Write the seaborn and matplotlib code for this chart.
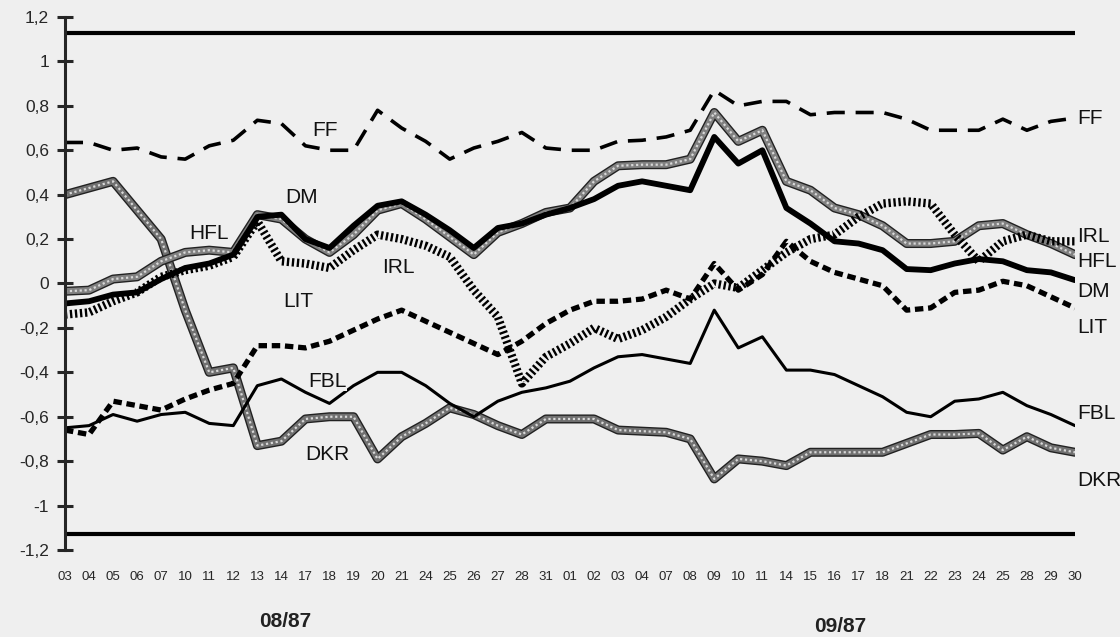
import matplotlib
matplotlib.use("Agg")
import matplotlib.pyplot as plt
import pandas as pd
import seaborn as sns

# trading days, Aug and Sep 1987
aug_days = ["03", "04", "05", "06", "07", "10", "11", "12", "13", "14", "17", "18", "19", "20", "21",
            "24", "25", "26", "27", "28", "31"]
sep_days = ["01", "02", "03", "04", "07", "08", "09", "10", "11", "14", "15", "16", "17", "18", "21",
            "22", "23", "24", "25", "28", "29", "30"]
day_labels = aug_days + sep_days
month_labels = ["08/87", "09/87"]

ff = [0.635, 0.635, 0.60, 0.61, 0.57, 0.56, 0.62, 0.645, 0.735, 0.72, 0.62, 0.60, 0.60, 0.78, 0.70,
      0.64, 0.56, 0.61, 0.64, 0.68, 0.61, 0.60, 0.60, 0.64, 0.645, 0.66, 0.69, 0.87, 0.80, 0.82,
      0.82, 0.76, 0.77, 0.77, 0.77, 0.74, 0.69, 0.69, 0.69, 0.74, 0.69, 0.73, 0.745]
dm = [-0.09, -0.08, -0.05, -0.04, 0.02, 0.07, 0.09, 0.13, 0.30, 0.31, 0.20, 0.16, 0.26, 0.35, 0.37,
      0.31, 0.24, 0.16, 0.25, 0.27, 0.31, 0.34, 0.38, 0.44, 0.46, 0.44, 0.42, 0.66, 0.54, 0.60,
      0.34, 0.27, 0.19, 0.18, 0.15, 0.065, 0.06, 0.09, 0.11, 0.10, 0.06, 0.05, 0.015]
hfl = [-0.035, -0.03, 0.02, 0.03, 0.10, 0.14, 0.15, 0.14, 0.31, 0.29, 0.20, 0.14, 0.22, 0.33, 0.36,
       0.29, 0.21, 0.13, 0.23, 0.27, 0.32, 0.34, 0.46, 0.53, 0.535, 0.535, 0.56, 0.77, 0.64, 0.69,
       0.46, 0.42, 0.34, 0.31, 0.26, 0.18, 0.18, 0.19, 0.26, 0.27, 0.22, 0.18, 0.13]
irl = [-0.14, -0.13, -0.08, -0.04, 0.03, 0.06, 0.08, 0.12, 0.28, 0.10, 0.09, 0.07, 0.15, 0.22, 0.20,
       0.17, 0.12, -0.03, -0.15, -0.45, -0.33, -0.27, -0.20, -0.25, -0.21, -0.15, -0.07, 0.0, -0.02,
       0.06, 0.14, 0.20, 0.22, 0.30, 0.36, 0.37, 0.36, 0.22, 0.10, 0.19, 0.22, 0.19, 0.19]
lit = [-0.66, -0.68, -0.53, -0.55, -0.57, -0.52, -0.48, -0.45, -0.28, -0.28, -0.29, -0.26, -0.21,
       -0.16, -0.12, -0.17, -0.22, -0.27, -0.32, -0.26, -0.18, -0.12, -0.08, -0.08, -0.07, -0.03,
       -0.07, 0.09, -0.03, 0.04, 0.19, 0.10, 0.05, 0.02, -0.01, -0.12, -0.11, -0.04, -0.03, 0.01,
       -0.01, -0.06, -0.11]
fbl = [-0.65, -0.64, -0.59, -0.62, -0.59, -0.58, -0.63, -0.64, -0.46, -0.43, -0.49, -0.54, -0.46,
       -0.40, -0.40, -0.46, -0.54, -0.60, -0.53, -0.49, -0.47, -0.44, -0.38, -0.33, -0.32, -0.34,
       -0.36, -0.12, -0.29, -0.24, -0.39, -0.39, -0.41, -0.46, -0.51, -0.58, -0.60, -0.53, -0.52,
       -0.49, -0.55, -0.59, -0.64]
dkr = [0.40, 0.43, 0.46, 0.33, 0.20, -0.12, -0.40, -0.38, -0.73, -0.71, -0.61, -0.60, -0.60, -0.79,
       -0.69, -0.63, -0.56, -0.59, -0.64, -0.68, -0.61, -0.61, -0.61, -0.66, -0.665, -0.67, -0.70,
       -0.88, -0.79, -0.80, -0.82, -0.76, -0.76, -0.76, -0.76, -0.72, -0.68, -0.68, -0.675, -0.75,
       -0.69, -0.74, -0.76]
band = 1.13

bg = "#efefef"
sns.set_style("ticks")
plt.rcParams["font.family"] = ["Liberation Sans", "DejaVu Sans"]

df = pd.DataFrame({"day": range(len(day_labels)), "FF": ff, "DM": dm, "HFL": hfl, "IRL": irl,
                   "LIT": lit, "FBL": fbl, "DKR": dkr})

fig = plt.figure(figsize=(11.2, 6.37), dpi=100, facecolor=bg)
ax = fig.add_axes([0.058, 0.1366, 0.9018, 0.8367], facecolor=bg)

ax.axhline(band, color="black", lw=3)
ax.axhline(-band, color="black", lw=3)

# checkered grey lines
for col, c in [("DKR", "#707070"), ("HFL", "#808080")]:
    sns.lineplot(data=df, x="day", y=col, ax=ax, color="#222222", lw=6.5)
    sns.lineplot(data=df, x="day", y=col, ax=ax, color=c, lw=4.5)
    line = sns.lineplot(data=df, x="day", y=col, ax=ax, color="#d8d8d8", lw=1.6).lines[-1]
    line.set_dashes((1, 1.2))
sns.lineplot(data=df, x="day", y="FBL", ax=ax, color="black", lw=2.2)
sns.lineplot(data=df, x="day", y="DM", ax=ax, color="black", lw=4.2)
# hatched line: very short dashes on a wide stroke
line = sns.lineplot(data=df, x="day", y="IRL", ax=ax, color="black", lw=6.0).lines[-1]
line.set_dashes((0.28, 0.32))
line = sns.lineplot(data=df, x="day", y="LIT", ax=ax, color="black", lw=3.8).lines[-1]
line.set_dashes((1.6, 0.9))
line = sns.lineplot(data=df, x="day", y="FF", ax=ax, color="black", lw=2.6).lines[-1]
line.set_dashes((5, 3))

lab_kw = dict(fontsize=15, color="#111111", va="center",
              bbox=dict(facecolor=bg, edgecolor="none", pad=0.5))
inner = [("FF", 10.8, 0.69), ("DM", 9.85, 0.385), ("HFL", 6.0, 0.225), ("IRL", 13.85, 0.07),
         ("LIT", 9.7, -0.08), ("FBL", 10.9, -0.44), ("DKR", 10.9, -0.77)]
for name, x, y in inner:
    ax.text(x, y, name, ha="center", **lab_kw)
right = [("FF", 0.745), ("IRL", 0.21), ("HFL", 0.10), ("DM", -0.035), ("LIT", -0.20),
         ("FBL", -0.585), ("DKR", -0.885)]
for name, y in right:
    ax.text(42.1, y, name, ha="left", **lab_kw)

ax.set_xlim(0, 42)
ax.set_ylim(-1.2, 1.2)
yt = [round(-1.2 + 0.2 * i, 1) for i in range(13)]
ax.set_yticks(yt)
ax.set_yticklabels([("%g" % v).replace(".", ",") for v in yt], fontsize=12.5)
ax.tick_params(axis="y", direction="inout", length=11, width=2.2, pad=6)
ax.set_xticks(range(len(day_labels)))
ax.set_xticklabels(day_labels, fontsize=9.5)
ax.tick_params(axis="x", length=0, pad=15)
ax.set_xlabel("")
ax.set_ylabel("")
for s in ["top", "right", "bottom"]:
    ax.spines[s].set_visible(False)
ax.spines["left"].set_linewidth(2.2)

fig.text(285 / 1120, 0.025, month_labels[0], fontsize=15, fontweight="bold", ha="center",
         va="center", color="#222222")
fig.text(840 / 1120, 0.017, month_labels[1], fontsize=15, fontweight="bold", ha="center",
         va="center", color="#222222")

fig.savefig("out.png", dpi=100, facecolor=bg)
